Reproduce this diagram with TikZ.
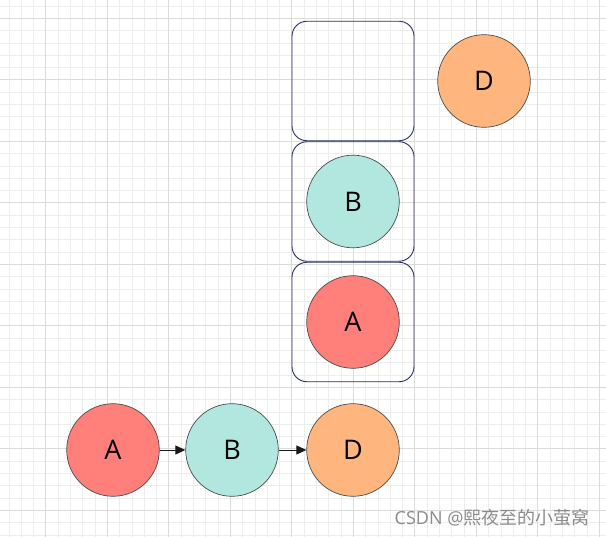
\documentclass[tikz,border=0pt]{standalone}
\usepackage{fontspec}
\setmainfont{Open Sans}
\newfontfamily\cjk{Noto Sans CJK SC}
\usepackage{tikz}
\usetikzlibrary{arrows.meta,calc}

\definecolor{redA}{HTML}{FF7F7A}
\definecolor{cyanB}{HTML}{B1E7DF}
\definecolor{orangeD}{HTML}{FFB67E}
\definecolor{slotline}{HTML}{2B3060}

\tikzset{
  ball/.style={circle,draw=black!70,line width=0.7pt,minimum size=92.6pt,inner sep=0pt,
    font=\fontsize{27}{27}\selectfont},
  slot/.style={rectangle,rounded corners=15pt,draw=slotline,line width=0.9pt,
    minimum width=122pt,minimum height=119.5pt,inner sep=0pt},
  link/.style={draw=black!90,line width=0.9pt,-{Triangle[length=10pt,width=9pt]}}
}

\begin{document}
\begin{tikzpicture}[x=1pt,y=-1pt]
  \useasboundingbox (0,0) rectangle (606,537);
  \fill[white] (0,0) rectangle (606,537);
  % grid
  \foreach \x in {8.8,21.1,...,606} \draw[black!7,line width=0.6pt] (\x,0)--(\x,537);
  \foreach \y in {6.0,18.3,...,537} \draw[black!7,line width=0.6pt] (0,\y)--(606,\y);
  \foreach \x in {45.7,107.2,...,606} \draw[black!14,line width=0.6pt] (\x,0)--(\x,537);
  \foreach \y in {18.3,79.8,...,537} \draw[black!14,line width=0.6pt] (0,\y)--(606,\y);

  % stack
  \node[slot] (slot3) at (353,81) {};
  \node[slot] (slot2) at (353,201.5) {};
  \node[slot] (slot1) at (353,322) {};
  \node[ball,fill=cyanB] (sB) at (slot2) {B};
  \node[ball,fill=redA] (sA) at (slot1) {A};
  \node[ball,fill=orangeD] (next) at (484,81) {D};

  % list
  \node[ball,fill=redA] (lA) at (113,450) {A};
  \node[ball,fill=cyanB] (lB) at (232,450) {B};
  \node[ball,fill=orangeD] (lD) at (353,450) {D};
  \draw[link] (lA) -- (lB);
  \draw[link] (lB) -- (lD);

  \node[anchor=east,text=black!45,font=\fontsize{18}{18}\selectfont] (mark) at (593,518)
    {CSDN @{\cjk 熙夜至的小萤窝}};
\end{tikzpicture}
\end{document}
